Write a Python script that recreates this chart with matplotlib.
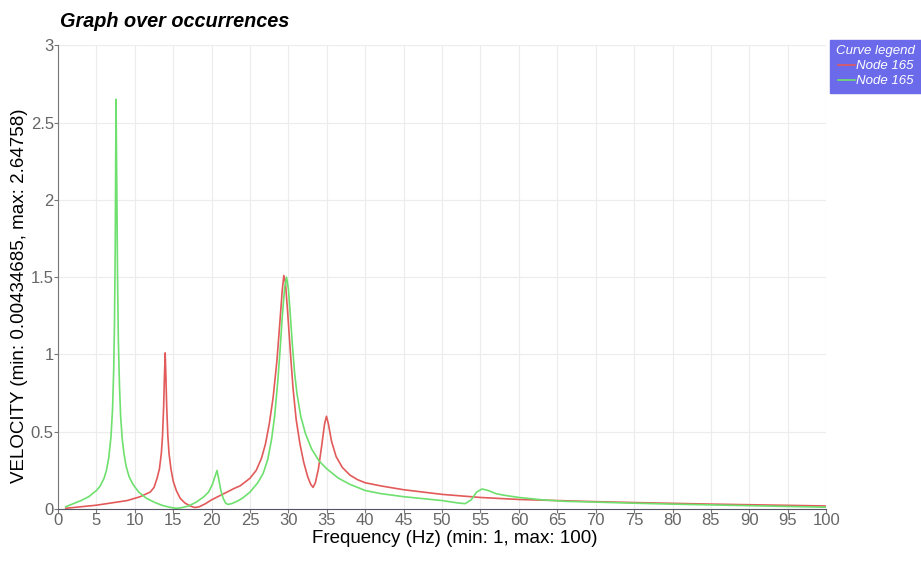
import matplotlib
matplotlib.use('Agg')
import matplotlib.pyplot as plt
from matplotlib.lines import Line2D

plt.rcParams['font.family'] = ['Liberation Sans', 'DejaVu Sans']

# curve 1 (red)
red_f = [1, 3, 5, 7, 9, 10.7, 12, 12.5, 12.9, 13.2, 13.45, 13.6, 13.75, 13.85,
         13.95, 14.05, 14.15, 14.3, 14.45, 14.7, 15.0, 15.4, 15.9, 16.5, 17.2,
         17.8, 18.4, 19.2, 20, 21, 22, 23, 23.7, 24.5, 25, 25.8, 26.5, 27, 27.5,
         28, 28.5, 28.9, 29.2, 29.4, 29.6, 29.9, 30.3, 30.6, 31, 31.5, 32, 32.5,
         32.9, 33.2, 33.5, 33.9, 34.3, 34.7, 34.95, 35.2, 35.6, 36.2, 37, 38, 39,
         40, 42, 45, 50, 55, 60, 65, 70, 75, 80, 85, 90, 95, 100]
red_v = [0.005, 0.015, 0.025, 0.04, 0.055, 0.08, 0.11, 0.14, 0.2, 0.26, 0.36,
         0.47, 0.66, 0.85, 1.01, 0.85, 0.66, 0.47, 0.36, 0.26, 0.18, 0.12, 0.07,
         0.04, 0.02, 0.01, 0.015, 0.035, 0.06, 0.085, 0.11, 0.135, 0.15, 0.18,
         0.2, 0.25, 0.33, 0.42, 0.55, 0.72, 0.96, 1.22, 1.42, 1.51, 1.47, 1.27,
         0.98, 0.78, 0.58, 0.42, 0.3, 0.21, 0.16, 0.14, 0.17, 0.26, 0.4, 0.55,
         0.6, 0.55, 0.44, 0.34, 0.27, 0.22, 0.19, 0.17, 0.15, 0.125, 0.095,
         0.075, 0.062, 0.055, 0.048, 0.042, 0.037, 0.032, 0.028, 0.024, 0.02]

# curve 2 (green)
green_f = [1, 2, 3, 4, 4.5, 5, 5.5, 6, 6.3, 6.6, 6.9, 7.1, 7.25, 7.35, 7.45,
           7.55, 7.65, 7.75, 7.85, 8.0, 8.15, 8.35, 8.55, 8.85, 9.25, 9.75, 10.5,
           11.5, 12.5, 13.5, 14.5, 15.3, 16, 17, 18, 19, 19.6, 20.1, 20.5, 20.7,
           20.9, 21.2, 21.5, 21.8, 22.1, 22.6, 23.3, 24, 25, 26, 26.7, 27.3,
           27.8, 28.2, 28.6, 28.9, 29.2, 29.5, 29.75, 30.0, 30.25, 30.5, 30.8,
           31.1, 31.6, 32.2, 33, 34, 35, 36.5, 38, 40, 42, 45, 48, 50, 52, 53,
           53.8, 54.5, 55.2, 56, 57, 58, 60, 63, 66, 70, 75, 80, 85, 90, 95, 100]
green_v = [0.015, 0.035, 0.055, 0.08, 0.1, 0.12, 0.15, 0.2, 0.25, 0.33, 0.47,
           0.65, 0.9, 1.2, 1.7, 2.65, 2.1, 1.5, 1.1, 0.8, 0.6, 0.46, 0.37, 0.28,
           0.21, 0.16, 0.11, 0.07, 0.045, 0.025, 0.012, 0.005, 0.008, 0.02, 0.045,
           0.08, 0.11, 0.16, 0.22, 0.25, 0.2, 0.12, 0.07, 0.04, 0.03, 0.035, 0.05,
           0.07, 0.11, 0.17, 0.23, 0.32, 0.45, 0.6, 0.82, 1.02, 1.25, 1.43, 1.5,
           1.42, 1.25, 1.07, 0.88, 0.75, 0.6, 0.49, 0.39, 0.31, 0.26, 0.2, 0.16,
           0.12, 0.1, 0.08, 0.065, 0.055, 0.04, 0.035, 0.06, 0.11, 0.13, 0.12,
           0.1, 0.09, 0.075, 0.06, 0.05, 0.045, 0.038, 0.032, 0.027, 0.022,
           0.017, 0.012]

x_ticks = list(range(0, 101, 5))
y_ticks = [0, 0.5, 1, 1.5, 2, 2.5, 3]
y_labels = ['0', '0.5', '1', '1.5', '2', '2.5', '3']
series_names = ['Node 165', 'Node 165']

fig = plt.figure(figsize=(9.21, 5.65), dpi=100)
ax = fig.add_axes([0.063, 0.099, 0.834, 0.821])

ax.plot(red_f, red_v, color='#e25a5a', lw=1.2)
ax.plot(green_f, green_v, color='#6ee06e', lw=1.2)

ax.set_xlim(0, 100)
ax.set_ylim(0, 3)
ax.set_xticks(x_ticks)
ax.set_yticks(y_ticks)
ax.set_yticklabels(y_labels)
ax.grid(True, color='#ececec', lw=0.8)
ax.set_axisbelow(True)
for s in ['top', 'right']:
    ax.spines[s].set_visible(False)
ax.spines['left'].set_color('#777777')
ax.spines['bottom'].set_color('#555566')
ax.tick_params(colors='#777777', labelcolor='#666666', labelsize=12, length=3, pad=0)

ax.set_xlabel('Frequency (Hz) (min: 1, max: 100)', fontsize=13.5, labelpad=1)
ax.xaxis.label.set_x(0.517)
ax.set_ylabel('VELOCITY (min: 0.00434685, max: 2.64758)', fontsize=13.5, labelpad=2)
ax.yaxis.label.set_y(0.46)
fig.text(0.065, 0.952, 'Graph over occurrences', fontsize=14.3,
         fontweight='bold', fontstyle='italic')

# legend box top right
handles = [Line2D([], [], color='#e25a5a', lw=1.2),
           Line2D([], [], color='#6ee06e', lw=1.2)]
leg = fig.legend(handles, series_names, title='Curve legend',
                 loc='upper right', bbox_to_anchor=(1.0, 0.93),
                 fontsize=9.5, title_fontsize=9.5, labelcolor='white',
                 facecolor='#6a6aea', edgecolor='#6a6aea', fancybox=False,
                 framealpha=1, handlelength=1.3, handletextpad=0.1,
                 borderpad=0.45, labelspacing=0.2, borderaxespad=0)
leg.get_title().set_color('white')
leg.get_title().set_fontstyle('italic')
for t in leg.get_texts():
    t.set_fontstyle('italic')

fig.savefig('out.png', dpi=100)
